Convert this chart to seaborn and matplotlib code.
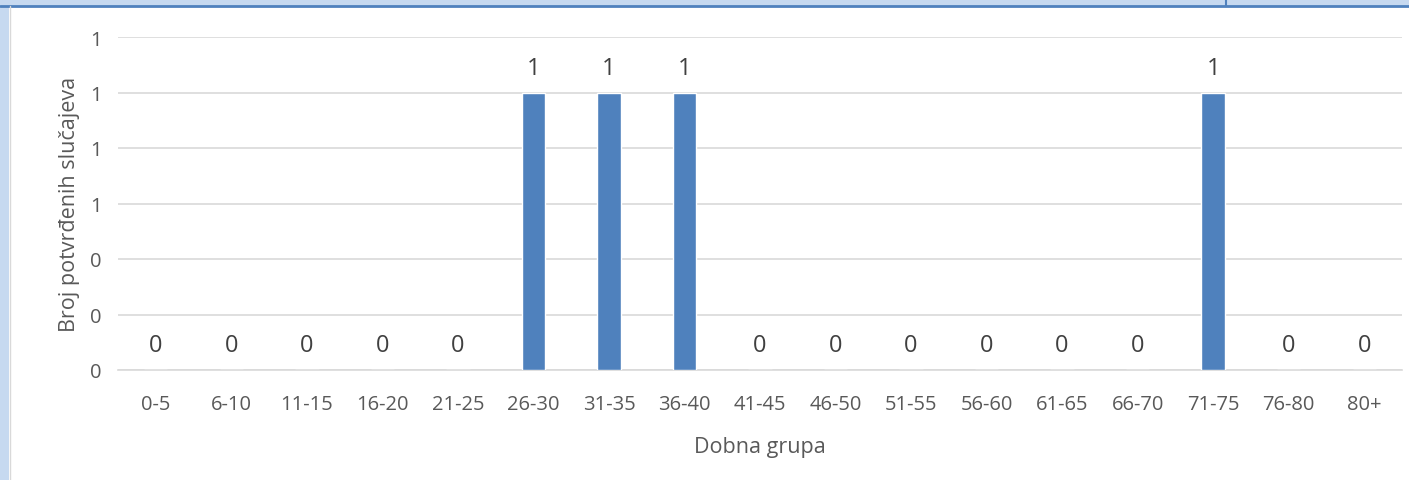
import matplotlib
matplotlib.use("Agg")
import matplotlib.pyplot as plt
import seaborn as sns
import pandas as pd
from matplotlib.patches import Rectangle
from matplotlib.lines import Line2D

# podaci
dobne_grupe = ['0-5', '6-10', '11-15', '16-20', '21-25', '26-30', '31-35', '36-40',
               '41-45', '46-50', '51-55', '56-60', '61-65', '66-70', '71-75', '76-80', '80+']
broj_slucajeva = [0, 0, 0, 0, 0, 1, 1, 1, 0, 0, 0, 0, 0, 0, 1, 0, 0]

df = pd.DataFrame({'Dobna grupa': dobne_grupe, 'Broj': broj_slucajeva})

sns.set_style("white")
plt.rcParams['font.family'] = ['Open Sans', 'DejaVu Sans']

W, H = 1409, 481
fig = plt.figure(figsize=(W / 100, H / 100), dpi=100)

# okvir oko grafikona (kao u Excelu)
fig.patches.append(Rectangle((0, 0), 9 / W, 1, transform=fig.transFigure,
                             facecolor='#C6D9F0', edgecolor='none', zorder=0))
fig.patches.append(Rectangle((0, 1 - 7 / H), 1, 7 / H, transform=fig.transFigure,
                             facecolor='#C6D9F0', edgecolor='none', zorder=0))
fig.lines.append(Line2D([0, 1], [1 - 7 / H, 1 - 7 / H], transform=fig.transFigure,
                        color='#4F81BD', lw=2))
fig.lines.append(Line2D([1226 / W, 1226 / W], [1 - 7 / H, 1], transform=fig.transFigure,
                        color='#4F81BD', lw=1.5))
fig.lines.append(Line2D([10 / W, 10 / W], [0, 1 - 7 / H], transform=fig.transFigure,
                        color='#D9D9D9', lw=1))

ax = fig.add_axes([118 / W, 1 - 371 / H, (1402 - 118) / W, (371 - 38) / H])
sns.barplot(data=df, x='Dobna grupa', y='Broj', color='#4F81BD', width=0.31,
            saturation=1, ax=ax, zorder=3)

ax.set_ylim(0, 1.2)
ax.set_xlim(-0.5, len(dobne_grupe) - 0.5)
yt = [0, 0.2, 0.4, 0.6, 0.8, 1.0, 1.2]
ax.set_yticks(yt)
ax.set_yticklabels(['%.0f' % v for v in yt])
ax.yaxis.grid(True, color='#D9D9D9', lw=1.2, zorder=0)
ax.set_axisbelow(True)
for s in ['top', 'right', 'left']:
    ax.spines[s].set_visible(False)
ax.spines['bottom'].set_color('#D9D9D9')
ax.spines['bottom'].set_linewidth(1.2)
ax.tick_params(axis='both', length=0, labelsize=14.5, colors='#595959')
ax.tick_params(axis='y', pad=12)
ax.tick_params(axis='x', pad=17)

# oznake vrijednosti
for i, v in enumerate(broj_slucajeva):
    ax.annotate('%d' % v, (i, v), xytext=(0, 9), textcoords='offset points',
                ha='center', va='bottom', fontsize=17, color='#404040')

ax.set_xlabel('Dobna grupa', fontsize=15.5, color='#595959', labelpad=16)
ax.set_ylabel('Broj potvrđenih slučajeva', fontsize=15.5, color='#595959', labelpad=7)

fig.savefig('out.png', dpi=100, facecolor='white')
